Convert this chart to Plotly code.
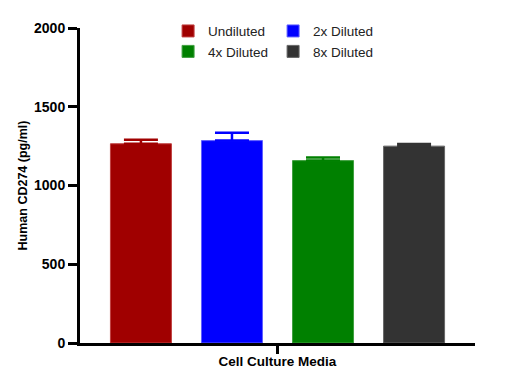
import plotly.graph_objects as go

category = ["Cell Culture Media"]
series_names = ["Undiluted", "2x Diluted", "4x Diluted", "8x Diluted"]
means = [1265, 1285, 1158, 1250]
errors = [26, 50, 20, 14]
colors = ["#A00000", "#0000FF", "#008000", "#333333"]
edge_colors = ["#C04040", "#6060FF", "#40A040", "#666666"]
legend_ids = ["legend", "legend", "legend2", "legend2"]
y_ticks = [0, 500, 1000, 1500, 2000]

fig = go.Figure()
for name, m, e, c, ec, lg in zip(series_names, means, errors, colors, edge_colors, legend_ids):
    fig.add_trace(go.Bar(
        x=category, y=[m], name=name,
        marker=dict(color=c, line=dict(width=1, color=ec)),
        error_y=dict(type="data", array=[e], arrayminus=[0], symmetric=False,
                     color=c, thickness=2.5, width=17),
        legend=lg,
    ))

font_family = "Liberation Sans, Arial, sans-serif"
legend_common = dict(orientation="h", xanchor="left", yanchor="middle",
                     font=dict(family=font_family, size=13.5, color="#222"),
                     entrywidth=60, entrywidthmode="pixels",
                     bgcolor="rgba(0,0,0,0)", itemwidth=30, tracegroupgap=0)

fig.update_layout(
    width=519, height=389,
    margin=dict(l=80, r=44, t=28, b=46, autoexpand=False),
    paper_bgcolor="white", plot_bgcolor="white",
    barmode="group", bargap=0.078, bargroupgap=0.33,
    showlegend=True,
    legend=dict(x=0.223, y=0.99, **legend_common),
    legend2=dict(x=0.223, y=0.925, **legend_common),
    font=dict(family=font_family, color="black"),
    xaxis=dict(
        automargin=False,
        showline=True, linecolor="black", linewidth=3,
        ticks="outside", ticklen=8, tickwidth=3, tickcolor="black",
        showticklabels=False,
        title=dict(text="<b>Cell Culture Media</b>", standoff=4,
                   font=dict(family=font_family, size=13.5, color="black")),
    ),
    yaxis=dict(
        automargin=False,
        range=[0, 2000], tickvals=y_ticks,
        ticktext=[f"<b>{v}</b>" for v in y_ticks],
        showline=True, linecolor="black", linewidth=3,
        ticks="outside", ticklen=9, tickwidth=3, tickcolor="black",
        showgrid=False, zeroline=False,
        tickfont=dict(family=font_family, size=14, color="black"),
        title=dict(text="<b>Human CD274 (pg/ml)</b>", standoff=4,
                   font=dict(family=font_family, size=12.5, color="black")),
    ),
)

fig.write_html("out.html", config={"displayModeBar": False},
               post_script="document.body.style.margin='0px';document.body.style.overflow='hidden';")
